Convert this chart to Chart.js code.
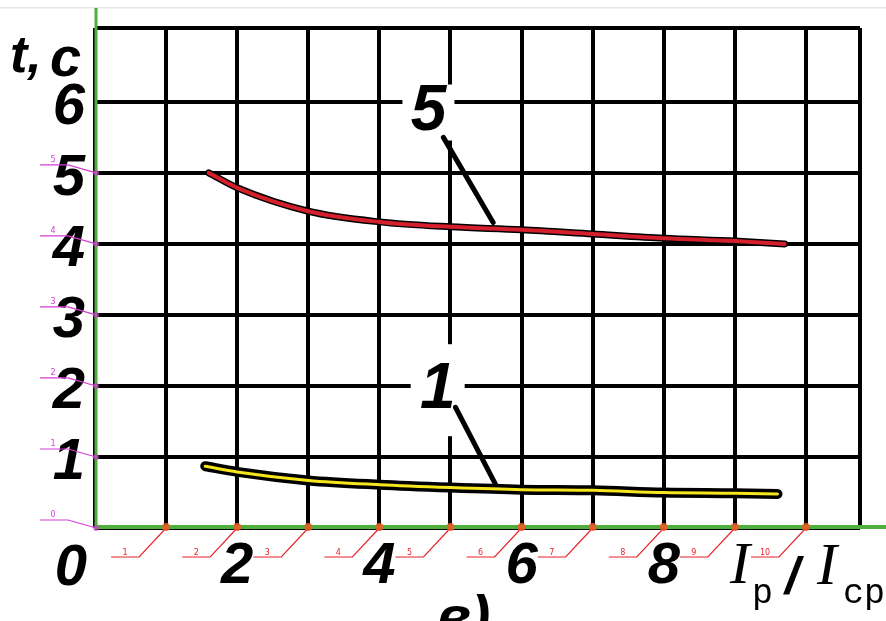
<!DOCTYPE html>
<html>
<head>
<meta charset="utf-8">
<script src="https://cdn.jsdelivr.net/npm/chart.js@4.4.1/dist/chart.umd.min.js"></script>
<style>
  html, body { margin: 0; padding: 0; background: #fff; }
</style>
</head>
<body>
<canvas id="tcChart" width="886" height="621"></canvas>
<script>
// curve 5 (upper) and curve 1 (lower): t, s versus Ip/Icp
const ratio5 = [1.6, 2, 3, 4, 5, 6, 7, 8, 9, 9.7];
const time5  = [5.0, 4.79, 4.46, 4.31, 4.24, 4.2, 4.14, 4.08, 4.04, 4.0];
const ratio1 = [1.55, 2, 3, 4, 5, 6, 7, 8, 9, 9.6];
const time1  = [0.87, 0.79, 0.67, 0.61, 0.57, 0.54, 0.53, 0.5, 0.49, 0.48];

const xTickLabels = ['2', '4', '6', '8'];
const yTickLabels = ['1', '2', '3', '4', '5', '6'];
// digitizer calibration marks
const yMarks = [0, 1, 2, 3, 4, 5];
const xMarks = [1, 2, 3, 4, 5, 6, 7, 8, 9, 10];

const X_MAX = 10.76;
const Y_MAX = 7.04;

const SANS = '"Liberation Sans", Arial, sans-serif';

function pts(xs, ys) {
  return xs.map((x, i) => ({ x: x, y: ys[i] }));
}

function tickFont(show) {
  return { family: SANS, size: 58, style: 'italic', weight: 'bold', lineHeight: show ? 1.2 : 0.1 };
}

const extras = {
  id: 'extras',
  afterDraw(chart) {
    const { ctx, scales: { x, y } } = chart;
    const X = v => x.getPixelForValue(v);
    const Y = v => y.getPixelForValue(v);
    ctx.save();

    // thin page edge at top
    ctx.fillStyle = '#e6e6e6';
    ctx.fillRect(0, 7, 886, 1.5);

    // curve captions with leader lines
    ctx.fillStyle = '#fff';
    ctx.fillRect(X(4.69) - 26, Y(5.85) - 28, 52, 56);
    ctx.fillRect(X(4.82) - 27, Y(1.94) - 46, 54, 92);
    ctx.fillStyle = '#000';
    ctx.font = 'italic bold 64px ' + SANS;
    ctx.textAlign = 'center';
    ctx.textBaseline = 'middle';
    ctx.fillText('5', X(4.69), Y(5.85));
    ctx.fillText('1', X(4.82), Y(1.94));
    ctx.strokeStyle = '#000';
    ctx.lineWidth = 5;
    ctx.lineCap = 'round';
    ctx.beginPath();
    ctx.moveTo(X(4.9), Y(5.5));
    ctx.lineTo(X(5.6), Y(4.3));
    ctx.moveTo(X(5.07), Y(1.7));
    ctx.lineTo(X(5.63), Y(0.62));
    ctx.stroke();

    // green axes
    const x0 = X(0), y0 = Y(0);
    ctx.strokeStyle = '#4fae3c';
    ctx.lineCap = 'butt';
    ctx.lineWidth = 3;
    ctx.beginPath();
    ctx.moveTo(x0 + 1, 8);
    ctx.lineTo(x0 + 1, y0);
    ctx.stroke();
    ctx.lineWidth = 4;
    ctx.beginPath();
    ctx.moveTo(x0, y0 - 1);
    ctx.lineTo(886, y0 - 1);
    ctx.stroke();

    // calibration marks on y axis
    ctx.font = '8px "DejaVu Sans", sans-serif';
    ctx.lineWidth = 1.2;
    yMarks.forEach(v => {
      const py = Y(v);
      ctx.strokeStyle = '#d63cd6';
      ctx.beginPath();
      ctx.moveTo(40, py - 8);
      ctx.lineTo(68, py - 8);
      ctx.lineTo(x0 + 1, py);
      ctx.stroke();
      ctx.fillStyle = '#d63cd6';
      ctx.fillText(String(v), 53, py - 13);
      ctx.fillStyle = 'rgba(214,60,214,0.6)';
      ctx.beginPath();
      ctx.arc(x0 + 1, py, 3, 0, Math.PI * 2);
      ctx.fill();
    });

    // calibration marks on x axis
    xMarks.forEach(v => {
      const px = X(v);
      ctx.strokeStyle = '#e8232a';
      ctx.lineWidth = 1.2;
      ctx.beginPath();
      ctx.moveTo(px, y0);
      ctx.lineTo(px - 27, y0 + 29);
      ctx.lineTo(px - 55, y0 + 29);
      ctx.stroke();
      ctx.fillStyle = '#e8232a';
      ctx.fillText(String(v), px - 41, y0 + 25);
      ctx.fillStyle = 'rgba(240,90,40,0.85)';
      ctx.beginPath();
      ctx.arc(px, y0 - 1, 4, 0, Math.PI * 2);
      ctx.fill();
    });

    // origin, axis titles
    ctx.fillStyle = '#000';
    ctx.textBaseline = 'alphabetic';
    ctx.textAlign = 'center';
    ctx.font = 'italic bold 58px ' + SANS;
    ctx.fillText('0', 71, 585);

    ctx.textAlign = 'left';
    ctx.font = 'italic bold 52px ' + SANS;
    ctx.fillText('t,', 10, 72);
    ctx.font = 'italic bold 56px ' + SANS;
    ctx.fillText('с', 50, 76);

    ctx.font = 'italic 60px "Liberation Serif", serif';
    ctx.fillText('I', 730, 583);
    ctx.fillText('I', 817, 584);
    ctx.font = '35px "Liberation Mono", monospace';
    ctx.fillText('p', 752, 603);
    ctx.fillText('cp', 843, 603);
    ctx.font = 'italic bold 52px ' + SANS;
    ctx.fillText('/', 785, 594);

    ctx.font = 'italic bold 58px ' + SANS;
    ctx.fillText('в)', 436, 636);
    ctx.restore();
  }
};

new Chart(document.getElementById('tcChart').getContext('2d'), {
  type: 'line',
  data: {
    datasets: [
      {
        data: pts(ratio5, time5),
        borderColor: '#d4202c',
        borderWidth: 4,
        order: 1
      },
      {
        data: pts(ratio1, time1),
        borderColor: '#f6e61c',
        borderWidth: 3,
        order: 1
      },
      {
        data: pts(ratio5, time5),
        borderColor: '#000',
        borderWidth: 7,
        order: 2
      },
      {
        data: pts(ratio1, time1),
        borderColor: '#000',
        borderWidth: 10,
        order: 2
      }
    ]
  },
  options: {
    responsive: false,
    animation: false,
    layout: { padding: { top: 28, right: 26, left: 0, bottom: 0 } },
    elements: {
      point: { radius: 0 },
      line: { cubicInterpolationMode: 'monotone', borderCapStyle: 'round', fill: false }
    },
    plugins: {
      legend: { display: false },
      tooltip: { enabled: false }
    },
    scales: {
      x: {
        type: 'linear',
        min: 0,
        max: X_MAX,
        afterFit: s => { s.height = 93; },
        border: { display: false },
        grid: { color: '#000', lineWidth: 4, drawTicks: false },
        ticks: {
          stepSize: 1,
          autoSkip: false,
          maxRotation: 0,
          padding: 4,
          color: '#000',
          font: c => tickFont(xTickLabels.includes(String(c.tick && c.tick.value))),
          callback: v => xTickLabels.includes(String(v)) ? String(v) : ''
        }
      },
      y: {
        type: 'linear',
        min: 0,
        max: Y_MAX,
        afterFit: s => { s.width = 95; },
        border: { display: false },
        grid: { color: '#000', lineWidth: 4, drawTicks: false },
        ticks: {
          stepSize: 1,
          autoSkip: false,
          padding: 10,
          labelOffset: 6,
          color: '#000',
          font: c => tickFont(yTickLabels.includes(String(c.tick && c.tick.value))),
          callback: v => yTickLabels.includes(String(v)) ? String(v) : ''
        }
      }
    }
  },
  plugins: [extras]
});
</script>
</body>
</html>
